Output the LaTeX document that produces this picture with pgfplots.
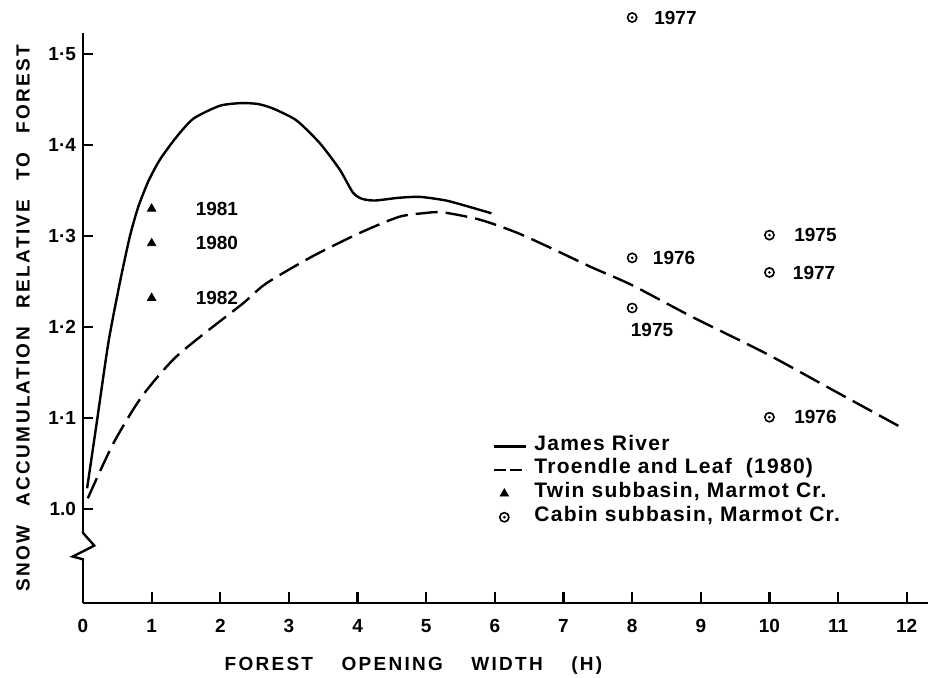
\documentclass[border=0pt]{standalone}
\usepackage{fontspec}
\setmainfont{Liberation Sans}
\usepackage{pgfplots}
\pgfplotsset{compat=1.18}
\pgfdeclareplotmark{odot}{%
  \pgfpathcircle{\pgfpointorigin}{\pgfplotmarksize}\pgfusepathqstroke
  \pgfpathcircle{\pgfpointorigin}{0.32\pgfplotmarksize}\pgfusepathqfill}
\newcommand{\lab}{\bfseries\fontsize{9.5}{11}\selectfont}
\newcommand{\leglab}{\bfseries\fontsize{10.5}{12}\selectfont\addfontfeature{LetterSpace=6}}
\newcommand{\axlab}{\bfseries\fontsize{9.5}{11}\selectfont\addfontfeature{LetterSpace=12}}
\begin{document}
\begin{tikzpicture}
\begin{axis}[
  scale only axis, width=422.5pt, height=285pt,
  xmin=0, xmax=12.31, ymin=0.897, ymax=1.523,
  axis x line=bottom, axis y line=left,
  axis line style={-, line width=1.2pt},
  tick align=inside, major tick length=5pt,
  xtick style={black, line width=1pt},
  ytick style={black, line width=1pt},
  xtick={0,1,2,3,4,5,6,7,8,9,10,11,12},
  xticklabels={0,1,2,3,4,5,6,7,8,9,10,11,12},
  ytick={1.0,1.1,1.2,1.3,1.4,1.5},
  yticklabels={1.0,1·1,1·2,1·3,1·4,1·5},
  ticklabel style={font=\lab},
  xticklabel style={yshift=-4.5pt},
  /pgf/number format/assume math mode=true,
  clip=false,
  xlabel={FOREST\hspace{1.5em}OPENING\hspace{1.5em}WIDTH\hspace{1.5em}(H)},
  xlabel style={font=\axlab, at={(axis description cs:0.391,-0.109)}, anchor=center},
  ylabel={SNOW\quad ACCUMULATION\quad RELATIVE\quad TO\quad FOREST},
  ylabel style={font=\axlab, at={(axis description cs:-0.071,0.5)}, anchor=center},
  legend style={at={(axis description cs:0.485,0.296)}, anchor=north west,
    draw=none, fill=none, font=\leglab, column sep=3.5pt, row sep=0pt,
    inner sep=0pt, nodes={inner sep=0pt, text height=7.8pt, text depth=4.0pt}},
  legend cell align=left,
]
\addplot[black, line width=1.2pt, smooth, tension=0.4,
  legend image code/.code={\path[draw=none,fill=none] (0pt,-3pt) rectangle (16pt,3pt); \draw[black, line width=1.1pt] (0pt,0pt) -- (16pt,0pt);}]
  coordinates {(0.06,1.023) (0.2,1.095) (0.37,1.183) (0.54,1.250) (0.684,1.300)
  (0.805,1.332) (0.951,1.360) (1.121,1.384) (1.364,1.409) (1.61,1.429) (1.99,1.443) (2.3,1.446)
  (2.55,1.445) (2.77,1.440) (3.11,1.427) (3.45,1.402) (3.74,1.373) (3.93,1.348)
  (4.06,1.341) (4.25,1.339) (4.6,1.342) (4.91,1.343) (5.29,1.339) (5.63,1.332) (5.95,1.325)};
\addlegendentry{James River}
\addplot[black, line width=1.2pt, smooth, tension=0.45, dash pattern=on 11pt off 4pt,
  legend image code/.code={\path[draw=none,fill=none] (0pt,-3pt) rectangle (16pt,3pt); \draw[black, line width=1.1pt, dash pattern=on 6pt off 2pt] (0pt,0pt) -- (16pt,0pt);}]
  coordinates {(0.07,1.012) (0.44,1.072) (0.85,1.123) (1.31,1.164) (1.75,1.192)
  (2.33,1.226) (2.67,1.248) (3.35,1.278) (4.05,1.304) (4.6,1.321) (4.95,1.325)
  (5.24,1.326) (5.78,1.318) (6.31,1.304) (6.84,1.286) (7.4,1.266) (8.0,1.246)
  (8.88,1.211) (9.95,1.171) (10.92,1.131) (11.94,1.089)};
\addlegendentry{Troendle and Leaf\ \ (1980)}
\addplot[only marks, mark=triangle*, mark size=2.4pt, black,
  legend image code/.code={\path[draw=none,fill=none] (0pt,-3pt) rectangle (16pt,3pt); \draw[black, only marks, mark=triangle*, mark size=2.4pt] plot coordinates {(5pt,0pt)};}]
  coordinates {(1,1.330) (1,1.292) (1,1.232)};
\addlegendentry{Twin\ subbasin, Marmot Cr.}
\addplot[only marks, mark=odot, mark size=2.3pt, black, line width=0.8pt,
  legend image code/.code={\path[draw=none,fill=none] (0pt,-3pt) rectangle (16pt,3pt); \draw[black, line width=0.8pt, only marks, mark=odot, mark size=2.3pt] plot coordinates {(5pt,0pt)};}]
  coordinates {(8,1.540) (8,1.276) (8,1.221) (10,1.301) (10,1.260) (10,1.101)};
\addlegendentry{Cabin subbasin, Marmot Cr.}
% point labels
\node[font=\lab, anchor=west] at (axis cs:1.54,1.330) {1981};
\node[font=\lab, anchor=west] at (axis cs:1.54,1.292) {1980};
\node[font=\lab, anchor=west] at (axis cs:1.54,1.232) {1982};
\node[font=\lab, anchor=west] at (axis cs:8.22,1.540) {1977};
\node[font=\lab, anchor=west] at (axis cs:8.20,1.276) {1976};
\node[font=\lab, anchor=center] at (axis cs:8.29,1.197) {1975};
\node[font=\lab, anchor=west] at (axis cs:10.26,1.301) {1975};
\node[font=\lab, anchor=west] at (axis cs:10.24,1.260) {1977};
\node[font=\lab, anchor=west] at (axis cs:10.26,1.101) {1976};
% tick marks (axis decoration)
\pgfplotsinvokeforeach{0,1,2,3,4,5,6,7,8,9,10,11,12}{%
  \draw[black, line width=1.1pt] (axis cs:#1,0.897) -- (axis cs:#1,0.909);}
\pgfplotsinvokeforeach{1.0,1.1,1.2,1.3,1.4,1.5}{%
  \draw[black, line width=1.1pt] (axis cs:0,#1) -- (axis cs:0.14,#1);}
% axis break on the y axis
\fill[white] (axis cs:-0.06,0.9452) rectangle (axis cs:0.06,0.9738);
\draw[line width=1.2pt, line join=miter] (axis cs:0,0.976) -- (axis cs:0,0.974) -- (axis cs:0.164,0.960)
  -- (axis cs:-0.15,0.948) -- (axis cs:0,0.945) -- (axis cs:0,0.943);
\end{axis}
\pgfresetboundingbox
\path (-41.5pt,-37.5pt) rectangle (423pt,301.5pt);
\end{tikzpicture}
\end{document}
